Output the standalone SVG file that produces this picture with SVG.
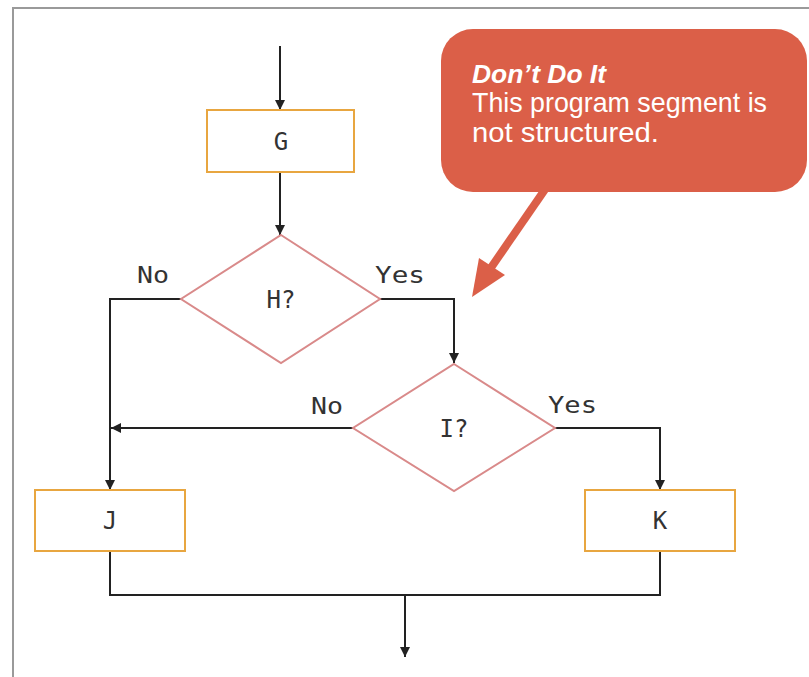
<svg xmlns="http://www.w3.org/2000/svg" width="809" height="677" viewBox="0 0 809 677">
<defs>
<marker id="ah" viewBox="0 0 10 10" refX="10" refY="5" markerWidth="10" markerHeight="10" markerUnits="userSpaceOnUse" orient="auto">
<path d="M0,0 L10,5 L0,10 z" fill="#222"/>
</marker>
<style>
.conn{fill:none;stroke:#222;stroke-width:2}
.box{fill:#fff;stroke:#E8A640;stroke-width:2}
.dia{fill:#fff;stroke:#D98A8A;stroke-width:2}
.lbl{font-family:"DejaVu Sans Mono",monospace;font-size:24px;fill:#333;text-anchor:middle}
.yn{font-family:"DejaVu Sans Mono",monospace;font-size:23px;fill:#333}
.call{font-family:"Liberation Sans Narrow","Liberation Sans",sans-serif;fill:#fff}
</style>
</defs>
<rect width="809" height="677" fill="#fff"/>
<path d="M13,677 V8 H809" fill="none" stroke="#9a9a9a" stroke-width="2"/>

<g id="connectors">
<line class="conn" x1="280" y1="46" x2="280" y2="110" marker-end="url(#ah)"/>
<line class="conn" x1="280" y1="172" x2="280" y2="235" marker-end="url(#ah)"/>
<polyline class="conn" points="181,299 110,299 110,490" marker-end="url(#ah)"/>
<polyline class="conn" points="380,299 454,299 454,363" marker-end="url(#ah)"/>
<line class="conn" x1="353" y1="428" x2="111" y2="428" marker-end="url(#ah)"/>
<polyline class="conn" points="555,428 660,428 660,490" marker-end="url(#ah)"/>
<polyline class="conn" points="110,551 110,595 660,595 660,551"/>
<line class="conn" x1="405" y1="595" x2="405" y2="657" marker-end="url(#ah)"/>
<text class="yn" x="137" y="283" textLength="32" lengthAdjust="spacingAndGlyphs">No</text>
<text class="yn" x="375" y="283" textLength="50" lengthAdjust="spacingAndGlyphs">Yes</text>
<text class="yn" x="311" y="414" textLength="32" lengthAdjust="spacingAndGlyphs">No</text>
<text class="yn" x="548" y="413" textLength="49" lengthAdjust="spacingAndGlyphs">Yes</text>
</g>

<g id="G"><rect class="box" x="207" y="110" width="147" height="62"/><text class="lbl" x="281" y="150">G</text></g>
<g id="H"><polygon class="dia" points="281,235 380,299 281,363 181,299"/><text class="lbl" x="281" y="308">H?</text></g>
<g id="I"><polygon class="dia" points="454,364 555,428 454,491 353,428"/><text class="lbl" x="454" y="437">I?</text></g>
<g id="J"><rect class="box" x="35" y="490" width="150" height="61"/><text class="lbl" x="110" y="529">J</text></g>
<g id="K"><rect class="box" x="585" y="490" width="150" height="61"/><text class="lbl" x="660" y="529">K</text></g>

<g id="callout">
<line x1="546" y1="188" x2="488" y2="272" stroke="#DB5F48" stroke-width="8"/>
<polygon points="472,297 479,258 505,275" fill="#DB5F48"/>
<rect x="441" y="29" width="366" height="163" rx="32" ry="32" fill="#DB5F48"/>
<text class="call" x="472" y="83" font-size="26" font-weight="bold" font-style="italic" textLength="134" lengthAdjust="spacingAndGlyphs">Don’t Do It</text>
<text class="call" x="472" y="112" font-size="28" textLength="295" lengthAdjust="spacingAndGlyphs">This program segment is</text>
<text class="call" x="472" y="142" font-size="28" textLength="187" lengthAdjust="spacingAndGlyphs">not structured.</text>
</g>
</svg>
